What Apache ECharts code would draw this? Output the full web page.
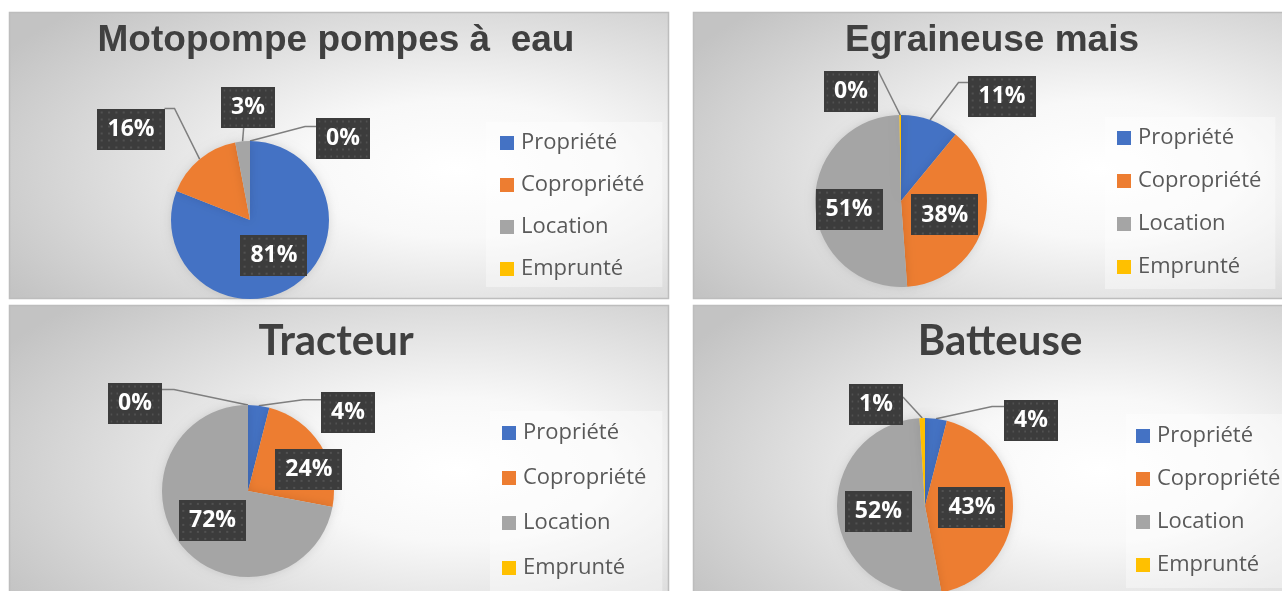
<!DOCTYPE html>
<html>
<head>
<meta charset="utf-8">
<script src="https://cdn.jsdelivr.net/npm/echarts@6/dist/echarts.min.js"></script>
<style>
  html, body { margin: 0; padding: 0; background: #ffffff; }
  #chart { width: 1282px; height: 591px; }
</style>
</head>
<body>
<div id="chart"></div>
<script>
// ---- data ----
const categories = ['Propriété', 'Copropriété', 'Location', 'Emprunté'];
const chartTitles = ['Motopompe pompes à  eau', 'Egraineuse mais', 'Tracteur', 'Batteuse'];
const motopompeShares = [81, 16, 3, 0];
const egraineuseShares = [11, 38, 51, 0.3];
const tracteurShares = [4, 24, 72, 0];
const batteuseShares = [4, 43, 52, 1];
const seriesValues = [motopompeShares, egraineuseShares, tracteurShares, batteuseShares];

// ---- styling / layout ----
const COLORS = ['#4472C4', '#ED7D31', '#A5A5A5', '#FFC000'];
const ARIAL_BOLD = '"Liberation Sans", Arial, sans-serif';
const HUMANIST = 'Lato, "Open Sans", sans-serif';
const LABEL_FONT = { family: '"Open Sans", sans-serif', size: 23, lineHeight: 23, padV: 9, padH: 10 };

// labelSpots: label centre relative to the pie centre
// links: where the leader line leaves the label box (fraction of box) and the short stub before it turns
const PANELS = [
  { frame: [9, 12, 659, 286], center: [250, 220], radius: 79,
    title: { x: 336, y: 22, family: ARIAL_BOLD, size: 37 },
    legend: { left: 486, top: 122, padding: [10, 18, 7, 14], gap: 20 },
    labelSpots: { 1: [-119, -91], 2: [-2, -113], 3: [93, -82] },
    links: { 1: { at: [1, 0], stub: [10, 0] }, 2: { at: [0.42, 1], stub: null }, 3: { at: [0, 0.22], stub: [-11, 0] } },
    nudges: {} },
  { frame: [693, 12, 600, 286], center: [901, 201], radius: 86,
    title: { x: 992, y: 22, family: ARIAL_BOLD, size: 37 },
    legend: { left: 1105, top: 117, padding: [10, 14, 11, 12], gap: 21 },
    labelSpots: { 0: [101, -105], 3: [-50, -110] },
    links: { 0: { at: [0, 0.17], stub: [-10, 0] }, 3: { at: [1, 0], stub: null } },
    nudges: { 2: [-6, 6] } },
  { frame: [9, 305, 659, 300], center: [248, 491], radius: 86,
    title: { x: 336, y: 320, family: HUMANIST, size: 42 },
    legend: { left: 490, top: 411, padding: [11, 16, 12, 12], gap: 23 },
    labelSpots: { 0: [100, -79], 3: [-113, -88] },
    links: { 0: { at: [0, 0.2], stub: [-18, 0] }, 3: { at: [1, 0.17], stub: [12, 0] } },
    nudges: { 1: [22, 3] } },
  { frame: [693, 305, 600, 300], center: [925, 506], radius: 88,
    title: { x: 1000, y: 320, family: HUMANIST, size: 42 },
    legend: { left: 1126, top: 414, padding: [11, 16, 12, 10], gap: 21 },
    labelSpots: { 0: [106, -86], 3: [-49, -102] },
    links: { 0: { at: [0, 0.17], stub: [-12, 0] }, 3: { at: [1, 0.33], stub: null } },
    nudges: {} }
];

// dark dotted fill used behind the data labels
function dottedFill(w, h) {
  const c = document.createElement('canvas');
  c.width = w; c.height = h;
  const g = c.getContext('2d');
  g.fillStyle = '#3c3c3c';
  g.fillRect(0, 0, w, h);
  g.fillStyle = 'rgba(255,255,255,0.11)';
  for (let y = 3; y < h; y += 7) {
    for (let x = 3; x < w; x += 7) g.fillRect(x, y, 2, 2);
  }
  return c;
}
const labelFill = dottedFill(64, 41);

// size of a data-label box for a given text
const measureCtx = document.createElement('canvas').getContext('2d');
function labelBoxSize(text) {
  measureCtx.font = 'bold ' + LABEL_FONT.size + 'px ' + LABEL_FONT.family;
  return [measureCtx.measureText(text).width + 2 * LABEL_FONT.padH, LABEL_FONT.lineHeight + 2 * LABEL_FONT.padV];
}
const pctText = v => Math.round(v) + '%';

// point on the rim at the middle of slice j (pie starts at 12 o'clock, clockwise)
function rimPoint(vals, j, center, radius) {
  const total = vals.reduce((a, b) => a + b, 0);
  let before = 0;
  for (let k = 0; k < j; k++) before += vals[k];
  const a = (before + vals[j] / 2) / total * Math.PI * 2;
  return [center[0] + radius * Math.sin(a), center[1] - radius * Math.cos(a)];
}

const chart = echarts.init(document.getElementById('chart'), null, { renderer: 'canvas', width: 1282, height: 591 });

const graphics = [];
PANELS.forEach(p => {
  const [x, y, w, h] = p.frame;
  // soft radial backdrop, stretched to an ellipse over the panel
  graphics.push({
    type: 'rect', silent: true, z: 0,
    x: x, y: y, scaleX: w / h,
    shape: { x: 0, y: 0, width: h, height: h },
    style: {
      fill: {
        type: 'radial', x: 0.68, y: 0.55, r: 0.8,
        colorStops: [
          { offset: 0, color: '#ffffff' },
          { offset: 0.3, color: '#f8f8f8' },
          { offset: 1, color: '#c3c3c3' }
        ]
      }
    }
  });
  graphics.push({
    type: 'rect', silent: true, z: 1,
    shape: { x: x + 0.5, y: y + 0.5, width: w, height: h },
    style: { fill: null, stroke: '#bdbdbd', lineWidth: 1.5 }
  });
});

const option = {
  animation: false,
  color: COLORS,
  graphic: { elements: graphics },
  title: PANELS.map((p, i) => ({
    text: chartTitles[i],
    left: p.title.x, top: p.title.y, textAlign: 'center', padding: 0,
    textStyle: { fontFamily: p.title.family, fontSize: p.title.size, fontWeight: 'bold', color: '#404040' }
  })),
  legend: PANELS.map(p => ({
    orient: 'vertical',
    left: p.legend.left, top: p.legend.top,
    padding: p.legend.padding,
    itemGap: p.legend.gap,
    itemWidth: 14, itemHeight: 14, icon: 'rect',
    backgroundColor: 'rgba(255,255,255,0.38)',
    selectedMode: false,
    data: categories,
    textStyle: { fontFamily: '"Open Sans", sans-serif', fontSize: 22, lineHeight: 22, color: '#595959', padding: [0, 0, 0, 2] }
  })),
  series: seriesValues.map((vals, i) => {
    const p = PANELS[i];
    return {
      type: 'pie', z: 2,
      center: p.center, radius: p.radius,
      startAngle: 90, clockwise: true,
      avoidLabelOverlap: false,
      emphasis: { disabled: true },
      itemStyle: { borderWidth: 0, shadowBlur: 10, shadowColor: 'rgba(0,0,0,0.12)' },
      data: vals.map((v, j) => ({
        name: categories[j], value: v,
        label: { position: p.labelSpots[j] ? 'outside' : 'inside' },
        labelLine: { show: !!p.labelSpots[j] }
      })),
      label: {
        formatter: q => pctText(q.value),
        color: '#ffffff', fontFamily: LABEL_FONT.family, fontWeight: 'bold',
        fontSize: LABEL_FONT.size, lineHeight: LABEL_FONT.lineHeight,
        padding: [LABEL_FONT.padV, LABEL_FONT.padH],
        backgroundColor: { image: labelFill },
        shadowColor: 'rgba(0,0,0,0.45)', shadowBlur: 5, shadowOffsetX: 3, shadowOffsetY: 3
      },
      labelLine: {
        length: 10, length2: 10, minTurnAngle: 0, maxSurfaceAngle: 180,
        lineStyle: { color: '#7f7f7f', width: 1.5 }
      },
      labelLayout: q => {
        const j = q.dataIndex;
        const s = p.labelSpots[j];
        if (s) {
          const cx = p.center[0] + s[0], cy = p.center[1] + s[1];
          const [w, h] = labelBoxSize(pctText(vals[j]));
          const link = p.links[j];
          const attach = [cx - w / 2 + link.at[0] * w, cy - h / 2 + link.at[1] * h];
          const rim = rimPoint(vals, j, p.center, p.radius);
          // straight leaders get a collinear middle point
          const bend = link.stub
            ? [attach[0] + link.stub[0], attach[1] + link.stub[1]]
            : [(attach[0] + rim[0]) / 2, (attach[1] + rim[1]) / 2];
          return {
            x: cx, y: cy, align: 'center', verticalAlign: 'middle',
            labelLinePoints: [rim, bend, attach]
          };
        }
        const n = p.nudges[j];
        return n ? { dx: n[0], dy: n[1] } : {};
      }
    };
  })
};

chart.setOption(option);
</script>
</body>
</html>
